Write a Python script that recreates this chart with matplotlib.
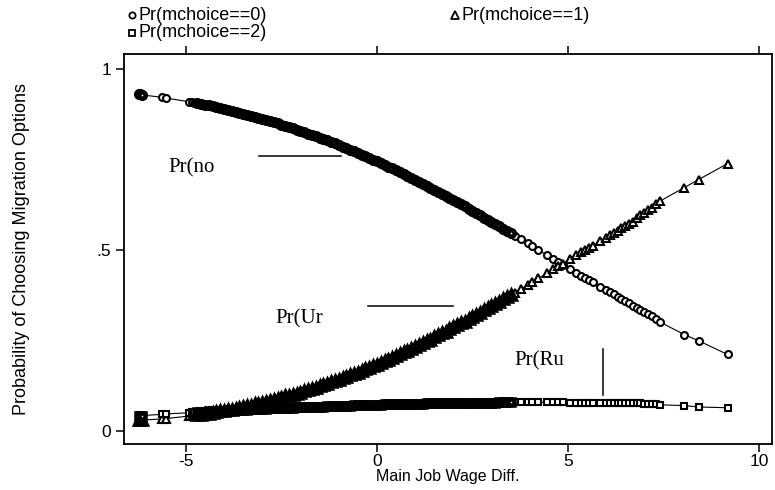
import matplotlib
matplotlib.use('Agg')
import matplotlib.pyplot as plt
from matplotlib.lines import Line2D
from matplotlib.transforms import Bbox

# wage difference values (observations), sorted
wage_diff = [
    -6.24, -6.2, -6.16, -5.62, -5.52, -4.92, -4.85, -4.78,
    -4.7, -4.6, -4.5, -4.4, -4.3, -4.2, -4.1, -4.0, -3.9, -3.8,
    -3.7, -3.6, -3.5, -3.4, -3.3, -3.2, -3.1, -3.0, -2.9, -2.8,
    -2.7, -2.6, -2.5, -2.4, -2.3, -2.2, -2.1, -2.0, -1.9, -1.8,
    -1.7, -1.6, -1.5, -1.4, -1.3, -1.2, -1.1, -1.0, -0.9, -0.8,
    -0.7, -0.6, -0.5, -0.4, -0.3, -0.2, -0.1, 0.0, 0.1, 0.2,
    0.3, 0.4, 0.5, 0.6, 0.7, 0.8, 0.9, 1.0, 1.1, 1.2,
    1.3, 1.4, 1.5, 1.6, 1.7, 1.8, 1.9, 2.0, 2.1, 2.2,
    2.3, 2.4, 2.5, 2.6, 2.7, 2.8, 2.9, 3.0, 3.1, 3.2,
    3.3, 3.4, 3.5,
    3.62, 3.78, 3.95, 4.05, 4.22, 4.45, 4.62, 4.75, 4.88, 5.05,
    5.22, 5.35, 5.45, 5.55, 5.65, 5.85, 6.0, 6.1, 6.2, 6.3,
    6.4, 6.5, 6.6, 6.7, 6.8, 6.9, 7.0, 7.1, 7.2, 7.3,
    7.4, 8.05, 8.42, 9.18,
]

# Pr(mchoice==0)
pr0 = [
    0.929, 0.929, 0.928, 0.921, 0.919, 0.909, 0.908, 0.906,
    0.905, 0.903, 0.901, 0.899, 0.896, 0.894, 0.891, 0.889, 0.886, 0.884,
    0.881, 0.879, 0.876, 0.873, 0.870, 0.867, 0.864, 0.862, 0.859, 0.855,
    0.852, 0.849, 0.846, 0.842, 0.839, 0.836, 0.832, 0.829, 0.825, 0.821,
    0.817, 0.814, 0.810, 0.806, 0.802, 0.798, 0.794, 0.790, 0.785, 0.781,
    0.777, 0.772, 0.768, 0.763, 0.759, 0.754, 0.749, 0.745, 0.740, 0.735,
    0.730, 0.725, 0.720, 0.715, 0.709, 0.704, 0.699, 0.694, 0.688, 0.683,
    0.677, 0.672, 0.666, 0.660, 0.655, 0.649, 0.643, 0.637, 0.631, 0.626,
    0.620, 0.614, 0.608, 0.602, 0.596, 0.589, 0.583, 0.577, 0.571, 0.565,
    0.558, 0.552, 0.546,
    0.539, 0.529, 0.518, 0.511, 0.500, 0.486, 0.475, 0.467, 0.459, 0.448,
    0.437, 0.429, 0.423, 0.417, 0.411, 0.398, 0.389, 0.383, 0.377, 0.371,
    0.365, 0.359, 0.352, 0.346, 0.340, 0.334, 0.328, 0.322, 0.316, 0.308,
    0.301, 0.266, 0.249, 0.211,
]

# Pr(mchoice==1)
pr1 = [
    0.029, 0.029, 0.030, 0.033, 0.034, 0.041, 0.041, 0.043,
    0.043, 0.045, 0.046, 0.047, 0.050, 0.051, 0.054, 0.055, 0.057, 0.059,
    0.061, 0.063, 0.065, 0.068, 0.070, 0.073, 0.075, 0.077, 0.080, 0.083,
    0.086, 0.088, 0.091, 0.095, 0.097, 0.100, 0.103, 0.106, 0.110, 0.113,
    0.117, 0.119, 0.123, 0.127, 0.130, 0.134, 0.137, 0.141, 0.146, 0.149,
    0.153, 0.157, 0.161, 0.166, 0.170, 0.174, 0.179, 0.183, 0.188, 0.192,
    0.197, 0.201, 0.206, 0.211, 0.217, 0.221, 0.226, 0.231, 0.237, 0.242,
    0.247, 0.252, 0.258, 0.264, 0.269, 0.274, 0.280, 0.286, 0.292, 0.297,
    0.302, 0.308, 0.314, 0.320, 0.326, 0.333, 0.339, 0.345, 0.351, 0.356,
    0.363, 0.369, 0.375,
    0.382, 0.392, 0.403, 0.410, 0.421, 0.435, 0.446, 0.454, 0.462, 0.474,
    0.485, 0.493, 0.499, 0.505, 0.511, 0.525, 0.534, 0.540, 0.546, 0.552,
    0.559, 0.565, 0.572, 0.578, 0.588, 0.595, 0.602, 0.609, 0.616, 0.626,
    0.634, 0.672, 0.694, 0.738,
]

# Pr(mchoice==2)
pr2 = [
    0.042, 0.042, 0.042, 0.046, 0.047, 0.050, 0.051, 0.051,
    0.052, 0.052, 0.053, 0.054, 0.054, 0.055, 0.055, 0.056, 0.057, 0.057,
    0.058, 0.058, 0.059, 0.059, 0.060, 0.060, 0.061, 0.061, 0.061, 0.062,
    0.062, 0.063, 0.063, 0.063, 0.064, 0.064, 0.065, 0.065, 0.065, 0.066,
    0.066, 0.067, 0.067, 0.067, 0.068, 0.068, 0.069, 0.069, 0.069, 0.070,
    0.070, 0.071, 0.071, 0.071, 0.071, 0.072, 0.072, 0.072, 0.072, 0.073,
    0.073, 0.074, 0.074, 0.074, 0.074, 0.075, 0.075, 0.075, 0.075, 0.075,
    0.076, 0.076, 0.076, 0.076, 0.076, 0.077, 0.077, 0.077, 0.077, 0.077,
    0.078, 0.078, 0.078, 0.078, 0.078, 0.078, 0.078, 0.078, 0.078, 0.079,
    0.079, 0.079, 0.079,
    0.079, 0.079, 0.079, 0.079, 0.079, 0.079, 0.079, 0.079, 0.079, 0.078,
    0.078, 0.078, 0.078, 0.078, 0.078, 0.077, 0.077, 0.077, 0.077, 0.077,
    0.076, 0.076, 0.076, 0.076, 0.076, 0.076, 0.075, 0.075, 0.075, 0.073,
    0.072, 0.070, 0.066, 0.064,
]

x_ticks = [-5, 0, 5, 10]
y_ticks = [0, 0.5, 1]
y_tick_labels = ['0', '.5', '1']

plt.rcParams['font.family'] = ['Liberation Sans', 'DejaVu Sans']

fig = plt.figure(figsize=(7.75, 4.9), dpi=100)
ax = fig.add_axes([0.160, 0.094, 0.836, 0.796])

# heavily overplotted stretches of observations
dense_parts = [slice(0, 3), slice(8, 91)]

series = [(pr0, 'o', 5.0), (pr1, '^', 5.6), (pr2, 's', 5.0)]
for vals, m, ms in series:
    ax.plot(wage_diff, vals, color='black', lw=0.8, marker=m, markersize=ms,
            markerfacecolor='white', markeredgecolor='black',
            markeredgewidth=1.5)
    # overlapping hollow markers merge into a solid band there
    for part in dense_parts:
        ax.plot(wage_diff[part], vals[part], linestyle='none', marker=m,
                markersize=ms - 0.3, markerfacecolor='white',
                markeredgecolor='black', markeredgewidth=3.3)

ax.set_xlim(-6.62, 10.34)
ax.set_ylim(-0.036, 1.041)
ax.set_xticks(x_ticks)
ax.set_xticklabels([str(t) for t in x_ticks])
ax.set_yticks(y_ticks)
ax.set_yticklabels(y_tick_labels)
ax.tick_params(axis='both', direction='out', length=6, width=1.1,
               labelsize=12.5, colors='black')
ax.tick_params(axis='x', top=True, labeltop=False, pad=1.5)
ax.tick_params(axis='y', pad=3)
for sp in ax.spines.values():
    sp.set_linewidth(1.3)

ax.set_xlabel('Main Job Wage Diff.', fontsize=11.5, labelpad=0)
ax.set_ylabel('Probability of Choosing Migration Options', fontsize=13,
              labelpad=48)

# annotations inside the plot
serif = dict(family=['Liberation Serif', 'DejaVu Serif'], fontsize=15)
ax.text(-5.47, 0.713, 'Pr(no', **serif)
ax.plot([-3.09, -0.94], [0.760, 0.760], color='black', lw=1.1)
ax.text(-2.67, 0.296, 'Pr(Ur', **serif)
ax.plot([-0.24, 1.99], [0.345, 0.345], color='black', lw=1.1)
ax.text(3.59, 0.18, 'Pr(Ru', **serif)
ax.plot([5.92, 5.92], [0.099, 0.227], color='black', lw=1.1)

# legend above the plot, Stata style
leg_items = [
    ('o', 'Pr(mchoice==0)', 0.170, 0.969, 4.5),
    ('^', 'Pr(mchoice==1)', 0.587, 0.969, 5.2),
    ('s', 'Pr(mchoice==2)', 0.170, 0.933, 4.5),
]
for m, lab, lx, ly, ms in leg_items:
    fig.add_artist(Line2D([lx], [ly], marker=m, markersize=ms, linestyle='none',
                          markerfacecolor='white', markeredgecolor='black',
                          markeredgewidth=1.3, transform=fig.transFigure))
    t = fig.text(lx + 0.009, ly, lab, fontsize=13, va='center', ha='left')
    if lab.endswith('1)'):
        t.set_clip_box(Bbox([[0, 0], [592, 490]]))
        t.set_clip_on(True)

fig.savefig('out.png', dpi=100)
